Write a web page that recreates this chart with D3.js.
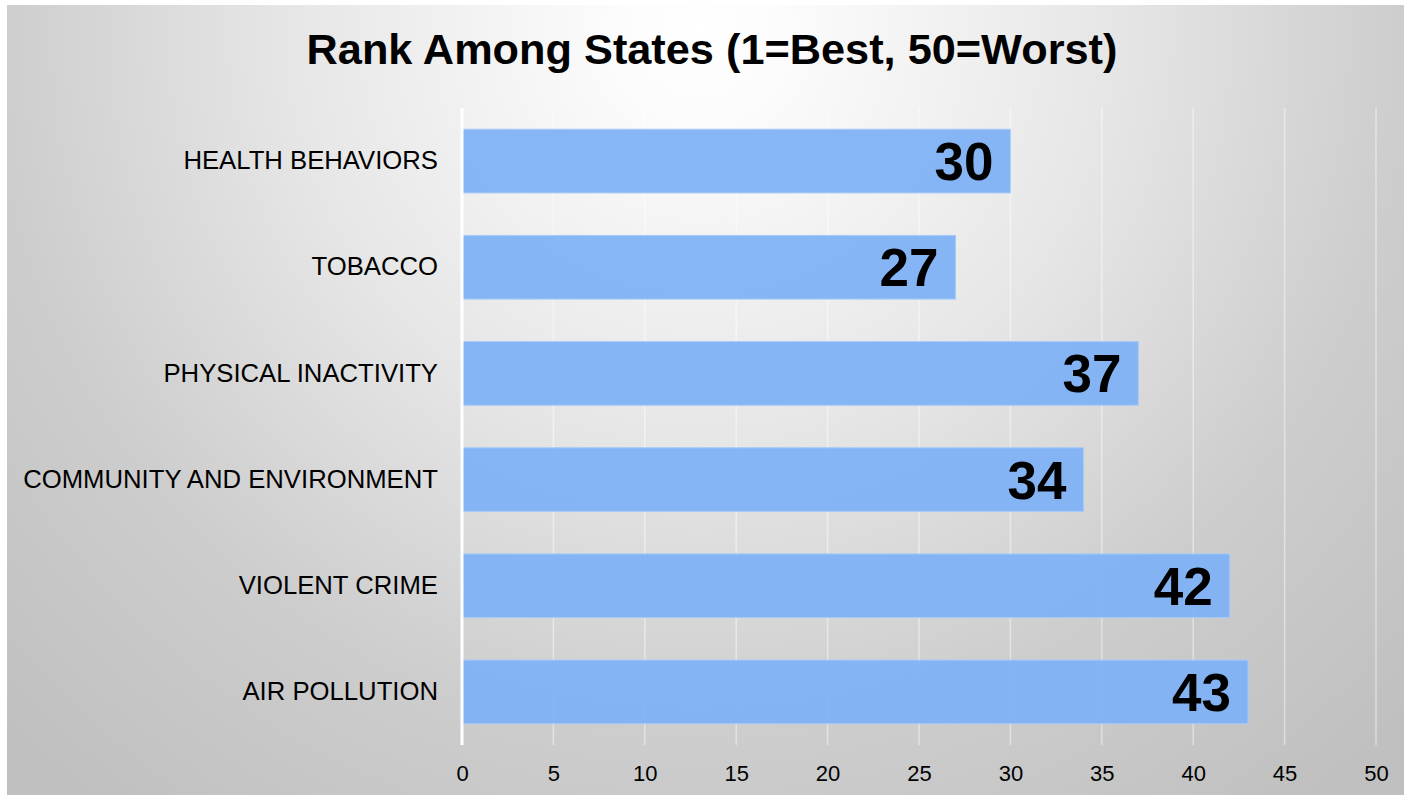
<!DOCTYPE html>
<html>
<head>
<meta charset="utf-8">
<script src="https://cdn.jsdelivr.net/npm/d3@7"></script>
<style>
  html, body { margin: 0; padding: 0; background: #ffffff; }
  svg { display: block; }
  text { font-family: "Liberation Sans", Arial, sans-serif; }
</style>
</head>
<body>
<svg id="chart" width="1404" height="795"></svg>
<script>
const categories = ["HEALTH BEHAVIORS", "TOBACCO", "PHYSICAL INACTIVITY", "COMMUNITY AND ENVIRONMENT", "VIOLENT CRIME", "AIR POLLUTION"];
const ranks = [30, 27, 37, 34, 42, 43];
const xTicks = [0, 5, 10, 15, 20, 25, 30, 35, 40, 45, 50];
const title = "Rank Among States (1=Best, 50=Worst)";

const W = 1404, H = 795;
const svg = d3.select("#chart");
const defs = svg.append("defs");
const grad = defs.append("radialGradient")
  .attr("id", "bg").attr("gradientUnits", "userSpaceOnUse")
  .attr("cx", 700).attr("cy", 30).attr("r", 980);
[[0, "#ffffff"], [0.1, "#fbfbfb"], [0.42, "#e6e6e6"], [0.72, "#cdcdcd"], [1, "#c0c0c0"]]
  .forEach(([o, c]) => grad.append("stop").attr("offset", o).attr("stop-color", c));

svg.append("rect").attr("x", 7).attr("y", 5).attr("width", W - 7).attr("height", H - 5)
  .attr("fill", "url(#bg)");

const margin = { left: 462, right: 28, top: 108, bottom: 50 };
const x = d3.scaleLinear().domain([0, 50]).range([margin.left, 1376]);
const y = d3.scaleBand().domain(categories).range([margin.top, 745]).paddingInner(0.4).paddingOuter(0.2);

// gridlines
svg.append("g").selectAll("line").data(xTicks.filter(d => d > 0)).join("line")
  .attr("x1", d => x(d)).attr("x2", d => x(d))
  .attr("y1", margin.top).attr("y2", 745)
  .attr("stroke", "#ffffff").attr("stroke-opacity", 0.45).attr("stroke-width", 1.5);

// bars
svg.append("g").selectAll("rect").data(categories).join("rect")
  .attr("x", x(0)).attr("y", d => y(d))
  .attr("width", (d, i) => x(ranks[i]) - x(0))
  .attr("height", y.bandwidth())
  .attr("fill", "#7fb1f7").attr("fill-opacity", 0.94)
  .attr("stroke", "#a8cbf9").attr("stroke-width", 1);

// zero axis line
svg.append("line").attr("x1", x(0)).attr("x2", x(0)).attr("y1", margin.top).attr("y2", 745)
  .attr("stroke", "#ffffff").attr("stroke-width", 3);

// x axis
const xAxis = d3.axisBottom(x).tickValues(xTicks).tickSize(0).tickPadding(0);
const gx = svg.append("g").attr("transform", "translate(0,745)").call(xAxis);
gx.select(".domain").remove();
gx.selectAll("text").attr("font-size", 22).attr("fill", "#000").attr("dy", null).attr("y", 36)
  .attr("font-family", "Liberation Sans, Arial, sans-serif");

// y axis labels
const yAxis = d3.axisLeft(y).tickSize(0).tickPadding(24);
const gy = svg.append("g").attr("transform", `translate(${x(0)},0)`).call(yAxis);
gy.select(".domain").remove();
gy.selectAll("text").attr("font-size", 25.7).attr("fill", "#000")
  .attr("font-family", "Liberation Sans, Arial, sans-serif");

// value labels
svg.append("g").selectAll("text").data(categories).join("text")
  .attr("x", (d, i) => x(ranks[i]) - 17)
  .attr("y", d => y(d) + y.bandwidth() / 2 + 19)
  .attr("text-anchor", "end").attr("font-weight", "bold").attr("font-size", 53).attr("fill", "#000")
  .text((d, i) => ranks[i]);

// title
svg.append("text").attr("x", 712).attr("y", 64).attr("text-anchor", "middle")
  .attr("font-weight", "bold").attr("font-size", 43.3).attr("fill", "#000").text(title);
</script>
</body>
</html>
